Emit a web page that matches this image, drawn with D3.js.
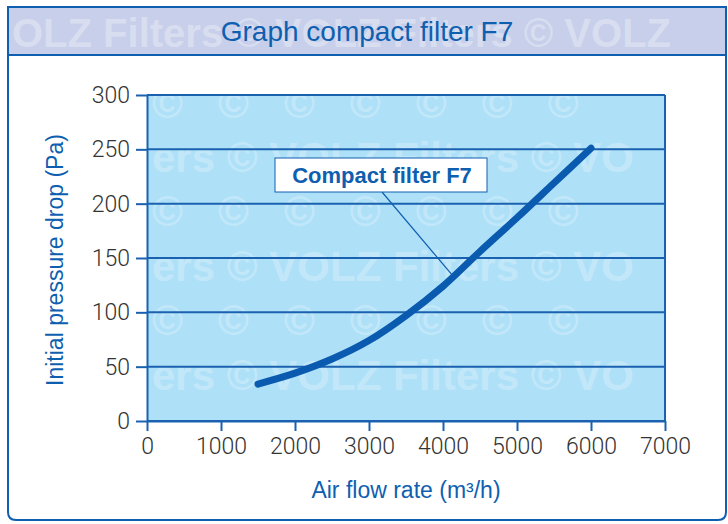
<!DOCTYPE html>
<html>
<head>
<meta charset="utf-8">
<script src="https://cdn.jsdelivr.net/npm/d3@7"></script>
<style>
  body { margin: 0; background: #fff; }
  svg { display: block; font-family: "Liberation Sans", Arial, sans-serif; }
</style>
</head>
<body>
<svg id="chart" width="728" height="524"></svg>
<script>
// values
const flow = [1500, 2000, 2500, 3000, 3500, 4000, 4500, 5000, 5500, 6000];
const pressure = [34, 44, 57, 74, 97, 124, 156, 187, 219, 251];
const xTicks = [0, 1000, 2000, 3000, 4000, 5000, 6000, 7000];
const yTicks = [0, 50, 100, 150, 200, 250, 300];
const title = "Graph compact filter F7";
const seriesName = "Compact filter F7";
const labelPoint = [4140, 133]; // where the callout line touches the curve

const blue = "#0f5fb0";
const svg = d3.select("#chart");

const x = d3.scaleLinear().domain([0, 7000]).range([147, 665]);
const y = d3.scaleLinear().domain([0, 300]).range([421, 95]);

// outer frame with rounded bottom
svg.append("path")
  .attr("d", "M8,7 L726,7 L726,512 Q726,520 718,520 L16,520 Q8,520 8,512 Z")
  .attr("fill", "#fff")
  .attr("stroke", blue)
  .attr("stroke-width", 2);

// title band
svg.append("rect")
  .attr("x", 9).attr("y", 8).attr("width", 716).attr("height", 47)
  .attr("fill", "#c7cfea");
svg.append("line")
  .attr("x1", 8).attr("x2", 726).attr("y1", 55).attr("y2", 55)
  .attr("stroke", blue).attr("stroke-width", 2);

// plot background
svg.append("rect")
  .attr("x", x(0)).attr("y", y(300))
  .attr("width", x(7000) - x(0)).attr("height", y(0) - y(300))
  .attr("fill", "#aee0f8");

// watermark
const defs = svg.append("defs");
defs.append("clipPath").attr("id", "plotClip").append("rect")
  .attr("x", x(0)).attr("y", y(300))
  .attr("width", x(7000) - x(0)).attr("height", y(0) - y(300));
defs.append("clipPath").attr("id", "bandClip").append("rect")
  .attr("x", 9).attr("y", 8).attr("width", 716).attr("height", 47);

const wmRows = [
  { y: 118, t: "©   ©   ©   ©   ©   ©   ©" },
  { y: 172, t: "ers © VOLZ Filters © VO" },
  { y: 226, t: "©   ©   ©   ©   ©   ©   ©" },
  { y: 281, t: "ers © VOLZ Filters © VO" },
  { y: 335, t: "©   ©   ©   ©   ©   ©   ©" },
  { y: 390, t: "ers © VOLZ Filters © VO" }
];
const wm = svg.append("g").attr("clip-path", "url(#plotClip)");
wm.selectAll("text").data(wmRows).join("text")
  .attr("x", 152).attr("y", d => d.y)
  .attr("fill", "#fff").attr("opacity", 0.25)
  .attr("font-size", 42).attr("font-weight", "bold")
  .attr("xml:space", "preserve")
  .text(d => d.t);
svg.append("g").attr("clip-path", "url(#bandClip)")
  .append("text")
  .attr("x", 12).attr("y", 47)
  .attr("fill", "#fff").attr("opacity", 0.3)
  .attr("font-size", 40).attr("font-weight", "bold")
  .text("OLZ Filters © VOLZ Filters © VOLZ");

// grid
svg.append("g").selectAll("line").data(yTicks).join("line")
  .attr("x1", x(0)).attr("x2", x(7000))
  .attr("y1", d => y(d)).attr("y2", d => y(d))
  .attr("stroke", "#1a62b0").attr("stroke-width", 2);

// axes
const yAxis = svg.append("g")
  .attr("transform", `translate(${x(0)},0)`)
  .call(d3.axisLeft(y).tickValues(yTicks).tickFormat(d3.format("d"))
    .tickSize(11).tickPadding(6).tickSizeOuter(0));
const xAxis = svg.append("g")
  .attr("transform", `translate(0,${y(0)})`)
  .call(d3.axisBottom(x).tickValues(xTicks).tickFormat(d3.format("d"))
    .tickSize(10).tickPadding(7).tickSizeOuter(0));
[xAxis, yAxis].forEach(a => {
  a.selectAll("path, line").attr("stroke", "#1a62b0").attr("stroke-width", 2);
  a.selectAll("text")
    .attr("fill", "#333")
    .attr("font-size", 23)
    .attr("font-family", "Roboto, 'Liberation Sans', sans-serif")
    .attr("font-weight", 300);
});

// right border of the plot
svg.append("line")
  .attr("x1", x(7000)).attr("x2", x(7000)).attr("y1", y(300)).attr("y2", y(0))
  .attr("stroke", "#1a62b0").attr("stroke-width", 2);

// curve
const pts = flow.map((f, i) => [f, pressure[i]]);
svg.append("path")
  .datum(pts)
  .attr("d", d3.line().x(d => x(d[0])).y(d => y(d[1])).curve(d3.curveCatmullRom))
  .attr("fill", "none")
  .attr("stroke", "#0a5ab0")
  .attr("stroke-width", 7)
  .attr("stroke-linecap", "round");

// callout
svg.append("line")
  .attr("x1", 382).attr("y1", 192)
  .attr("x2", x(labelPoint[0])).attr("y2", y(labelPoint[1]))
  .attr("stroke", blue).attr("stroke-width", 1.2);
svg.append("rect")
  .attr("x", 275).attr("y", 158).attr("width", 212).attr("height", 34)
  .attr("fill", "#fff").attr("stroke", blue).attr("stroke-width", 1);
svg.append("text")
  .attr("x", 382).attr("y", 183)
  .attr("text-anchor", "middle")
  .attr("fill", blue).attr("font-size", 22).attr("font-weight", "bold")
  .text(seriesName);

// titles
svg.append("text")
  .attr("x", 367).attr("y", 41)
  .attr("text-anchor", "middle")
  .attr("fill", blue).attr("font-size", 28)
  .text(title);
svg.append("text")
  .attr("transform", "translate(63,260) rotate(-90)")
  .attr("text-anchor", "middle")
  .attr("fill", blue).attr("font-size", 23)
  .text("Initial pressure drop (Pa)");
svg.append("text")
  .attr("x", 406).attr("y", 498)
  .attr("text-anchor", "middle")
  .attr("fill", blue).attr("font-size", 23)
  .text("Air flow rate (m³/h)");
</script>
</body>
</html>
